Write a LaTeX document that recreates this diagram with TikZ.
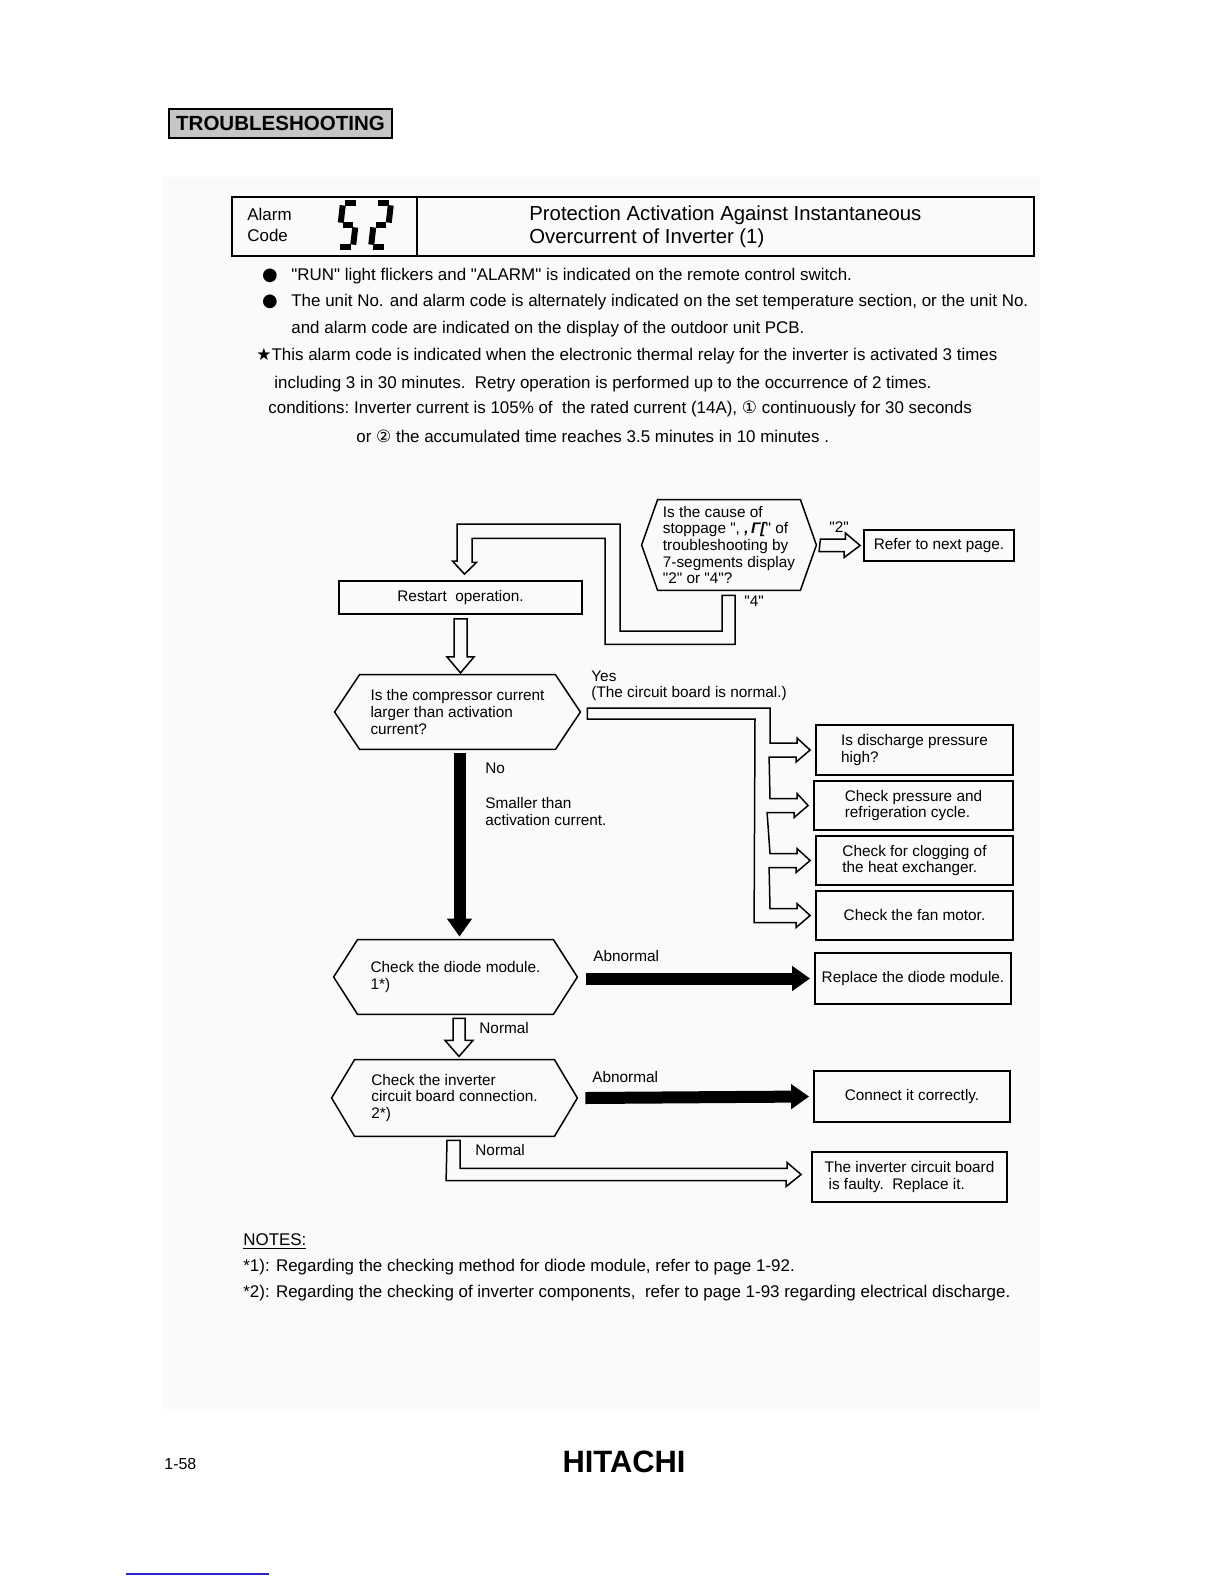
\documentclass[tikz,border=0pt]{standalone}
\usepackage{fontspec}
\setmainfont{Liberation Sans}[Ligatures=TeXOff]
\newfontfamily\symfont{DejaVu Sans}
\usetikzlibrary{arrows.meta,calc}
\newcommand\chartfont{\fontsize{7.7}{8.3}\selectfont}
\newcommand\bodyfont{\fontsize{8.5}{10}\selectfont}
\tikzset{
  chartbox/.style={draw,line width=0.9bp,rectangle,inner sep=2bp,align=left,font=\chartfont},
  hexnode/.style={rectangle,inner sep=2bp,align=left,font=\chartfont,
    append after command={\pgfextra{\draw[line width=0.75bp,line join=miter]
      (\tikzlastnode.north west) -- (\tikzlastnode.north east) -- ([xshift=#1]\tikzlastnode.east)
      -- (\tikzlastnode.south east) -- (\tikzlastnode.south west) -- ([xshift=-#1]\tikzlastnode.west) -- cycle;}}},
  hexnode/.default=12bp,
  hollow/.style={draw,line width=0.75bp,line join=miter},
  blackarrow/.style={line width=6bp,-{Triangle[length=9bp 0,width=12bp 0]}},
  seg/.style={line width=3bp,shorten <=1.2bp,shorten >=1.2bp},
  bodytext/.style={anchor=west,inner sep=0pt,font=\bodyfont},
  lbl/.style={anchor=west,inner sep=0pt,align=left,font=\chartfont},
  notetext/.style={anchor=west,inner sep=0pt,font=\fontsize{8.5}{10}\selectfont},
}

\begin{document}
\begin{tikzpicture}[x=0.5bp,y=-0.5bp]
\useasboundingbox (0,0) rectangle (1224,1584);
\fill[black!2] (162,177) rectangle (1040,1409);

% heading
\node[draw,line width=1bp,fill=gray!45,minimum width=111.5bp,minimum height=14.5bp,inner sep=0pt,
  font=\fontsize{10.3}{12}\selectfont\bfseries] (tshoot) at (280.5,123.5) {TROUBLESHOOTING};

% alarm code table
\draw[line width=1bp] (232,197) rectangle (1034,256) (417,197) -- (417,256);
\node[bodytext,font=\fontsize{8.5}{10}\selectfont] (alarm) at (247,214) {Alarm};
\node[bodytext,font=\fontsize{8.5}{10}\selectfont] (code) at (247,235) {Code};
% 7-segment 5 and 2
\foreach \xa/\ya/\xb/\yb in {343/203/358/203, 343/203/340.5/225, 340.5/225/355.5/225, 355.5/225/353/247, 338/247/353/247,
    376/203/391/203, 391/203/388.5/225, 373.5/225/388.5/225, 373.5/225/371/247, 371/247/386/247}
  \draw[seg] (\xa,\ya) -- (\xb,\yb);
\node[bodytext,font=\fontsize{10.2}{12}\selectfont] (title1) at (529,215) {Protection Activation Against Instantaneous};
\node[bodytext,font=\fontsize{10.2}{12}\selectfont] (title2) at (529,238) {Overcurrent of Inverter (1)};

% remarks
\node[font=\symfont\fontsize{9}{9}\selectfont,inner sep=0pt] (dot1) at (270,276) {●};
\node[font=\symfont\fontsize{9}{9}\selectfont,inner sep=0pt] (dot2) at (270,302) {●};
\node[bodytext] (r1) at (291,276) {"RUN" light flickers and "ALARM" is indicated on the remote control switch.};
\node[bodytext] (r2) at (291,302) {The unit No. and alarm code is alternately indicated on the set temperature section, or the unit No.};
\node[bodytext] (r3) at (291,329) {and alarm code are indicated on the display of the outdoor unit PCB.};
\node[bodytext] (r4) at (256,356) {{\symfont ★}This alarm code is indicated when the electronic thermal relay for the inverter is activated 3 times};
\node[bodytext] (r5) at (274,384) {including 3 in 30 minutes.\ \ Retry operation is performed up to the occurrence of 2 times.};
\node[bodytext] (r6) at (268,409) {conditions:\ Inverter current is 105\% of\ \ the rated current (14A), {\symfont ①} continuously for 30 seconds};
\node[bodytext] (r7) at (356,436) {or {\symfont ②} the accumulated time reaches 3.5 minutes in 10 minutes .};

% flow chart
\node[hexnode=8bp,minimum width=71bp,minimum height=45bp] (q0) at (729,545)
  {Is the cause of\\stoppage ", {\bfseries\itshape ,\,Γ[}" of\\troubleshooting by\\7-segments display\\"2" or "4"?};
\node[chartbox,minimum width=75bp,minimum height=15.5bp] (refer) at (939,545.5) {Refer to next page.};
\node[chartbox,minimum width=121.5bp,minimum height=16.5bp] (restart) at (460.5,597.5) {Restart\ \ operation.};
\node[hexnode=12.5bp,minimum width=97.5bp,minimum height=37bp] (q1) at (457.5,712)
  {Is the compressor current\\larger than activation\\current?};
\node[chartbox,minimum width=98.5bp,minimum height=25bp] (b1) at (914.5,750) {Is discharge pressure\\high?};
\node[chartbox,minimum width=99.5bp,minimum height=24.5bp] (b2) at (913.5,805.5) {Check pressure and\\refrigeration cycle.};
\node[chartbox,minimum width=98.5bp,minimum height=24.5bp] (b3) at (914.5,860.5) {Check for clogging of\\the heat exchanger.};
\node[chartbox,minimum width=98.5bp,minimum height=24.5bp] (b4) at (914.5,915.5) {Check the fan motor.};
\node[hexnode=12bp,minimum width=97.5bp,minimum height=37bp] (q2) at (455.5,977)
  {Check the diode module.\\1*)};
\node[chartbox,minimum width=98bp,minimum height=25.5bp] (b5) at (913,978.5) {Replace the diode module.};
\node[hexnode=11.5bp,minimum width=99.5bp,minimum height=38bp] (q3) at (454.5,1098)
  {Check the inverter\\circuit board connection.\\2*)};
\node[chartbox,minimum width=98bp,minimum height=25.5bp] (b6) at (912,1096.5) {Connect it correctly.};
\node[chartbox,minimum width=97.5bp,minimum height=25bp] (b7) at (909.5,1177)
  {The inverter circuit board\\\hspace*{2bp}is faulty.\ \ Replace it.};

% labels
\node[lbl] (two) at (829,527) {"2"};
\node[lbl] (four) at (744,601) {"4"};
\node[lbl] (yes) at (591,676) {Yes};
\node[lbl] (pcbok) at (591,694) {(The circuit board is normal.)};
\node[lbl] (no) at (485,768) {No};
\node[lbl] (smaller) at (485,811.5) {Smaller than\\activation current.};
\node[lbl] (abn1) at (593,956) {Abnormal};
\node[lbl] (nrm1) at (479,1028) {Normal};
\node[lbl] (abn2) at (592,1077) {Abnormal};
\node[lbl] (nrm2) at (475,1150) {Normal};

% "2" -> next page
\draw[hollow] ($(q0.east)+(20,-6)$) -- ++(25,0) -- ++(0,-6) -- ($(refer.west)+(-3,0)$)
  -- ++(-16,12) -- ++(0,-6) -- ++(-25,0) -- cycle;
% "4" -> back to restart
\draw[hollow] ($(q0.south)+(-7,5)$) -- ++(13,0) -- ++(0,49) -- ++(-130,0) -- ++(0,-106) -- ++(-133,0)
  -- ++(0,24) -- ++(4.5,0) -- ($(restart.north)+(4,-6)$) -- ++(-12,-13) -- ++(4.5,0) -- ++(0,-37)
  -- ++(163,0) -- ++(0,107) -- ++(102,0) -- cycle;
% restart -> q1
\draw[hollow] ($(restart.south)+(-6.5,4)$) -- ++(13,0) -- ++(0,38) -- ++(7,0) -- ++(-13.5,16)
  -- ++(-13.5,-16) -- ++(7,0) -- cycle;
% yes: fan out to the four checks
\coordinate (yl) at ($(q1.east)+(32,-4)$);
\coordinate (yo) at (770,708);
\coordinate (yi) at (755,719);
\draw[hollow] (yl) -- (yo)
  \foreach \bx in {b1,b2,b3} {
    -- ($(yo |- \bx.west)+(0,-7)$) -- ++(27,0) -- ++(0,-5) -- ($(\bx.west)+(-5,0)$)
    -- ++(-14,12) -- ++(0,-5) -- ++(-27,0) }
  -- ($(yo |- b4.west)+(0,-7)$) -- ++(27,0) -- ++(0,-5) -- ($(b4.west)+(-5,0)$)
  -- ++(-14,12) -- ++(0,-5) -- ++(-42,0) -- (yi) -- (yl |- yi) -- cycle;
% no
\draw[blackarrow] ($(q1.south)+(2,4)$) -- ($(q1.south |- q2.north)+(2,-3)$);
% abnormal
\draw[blackarrow] ($(q2.east)+(33,1.5)$) -- ($(b5.west)+(-4,0)$);
\draw[blackarrow] ($(q3.east)+(31,0)$) -- ($(b6.west)+(-4,0)$);
% normal
\draw[hollow] ($(q2.south)+(-2.5,4)$) -- ++(12,0) -- ++(0,22) -- ++(8,0) -- ++(-14,16)
  -- ++(-14,-16) -- ++(8,0) -- cycle;
\draw[hollow] ($(q3.south)+(-7.5,4)$) -- ++(13,0) -- ++(0,28) -- ++(327,0) -- ++(0,-6)
  -- ($(b7.west)+(-10,-2.5)$) -- ++(-15,12) -- ++(0,-6) -- ++(-340,0) -- cycle;

% notes
\node[notetext] (notes) at (243,1242) {\underline{NOTES:}};
\node[notetext] (note1) at (243,1267) {*1): Regarding the checking method for diode module, refer to page 1-92.};
\node[notetext] (note2) at (243,1293) {*2): Regarding the checking of inverter components,\ \ refer to page 1-93 regarding electrical discharge.};

% footer
\node[anchor=west,inner sep=0pt,font=\fontsize{8}{9}\selectfont] (pageno) at (164,1464) {1-58};
\node[inner sep=0pt,font=\fontsize{15.5}{17}\selectfont\bfseries] (brand) at (624,1462) {HITACHI};
\draw[blue!75!black!85,line width=0.8bp] (126,1574) -- (269,1574);
\end{tikzpicture}
\end{document}
